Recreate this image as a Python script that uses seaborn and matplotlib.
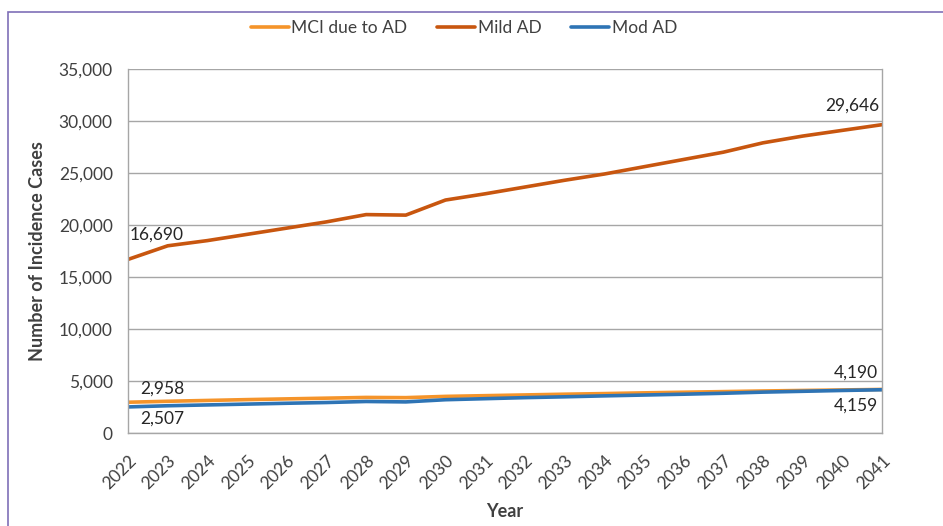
import matplotlib
matplotlib.use("Agg")
import matplotlib.pyplot as plt
from matplotlib.patches import Rectangle
from matplotlib.ticker import FuncFormatter
import seaborn as sns
import pandas as pd

years = list(range(2022, 2042))
mci_due_to_ad = [2958, 3050, 3130, 3210, 3280, 3350, 3420, 3400, 3520, 3590,
                 3660, 3730, 3790, 3860, 3920, 3980, 4040, 4090, 4140, 4190]
mild_ad = [16690, 18000, 18500, 19100, 19700, 20300, 21000, 20950, 22400, 23000,
           23650, 24300, 24900, 25600, 26300, 27000, 27900, 28550, 29100, 29646]
mod_ad = [2507, 2620, 2700, 2780, 2860, 2930, 3030, 2990, 3200, 3300,
          3400, 3480, 3570, 3650, 3730, 3820, 3930, 4010, 4090, 4159]
series_names = ["MCI due to AD", "Mild AD", "Mod AD"]
colors = ["#F5942A", "#C8560F", "#2E74B5"]

df = pd.DataFrame({
    "Year": years * 3,
    "Cases": mci_due_to_ad + mild_ad + mod_ad,
    "Series": [series_names[0]] * 20 + [series_names[1]] * 20 + [series_names[2]] * 20,
})

sns.set_theme(style="white")
plt.rcParams["font.family"] = ["Lato", "DejaVu Sans"]

fig = plt.figure(figsize=(9.43, 5.26), dpi=100)
ax = fig.add_axes([128 / 943, 1 - 433 / 526, (882 - 128) / 943, (433 - 69) / 526])

sns.lineplot(data=df, x="Year", y="Cases", hue="Series", hue_order=series_names,
             palette=colors, linewidth=2.6, ax=ax, legend=False, sort=False)

ax.set_xlim(years[0], years[-1])
ax.set_ylim(0, 35000)
ax.set_yticks(range(0, 35001, 5000))
ax.yaxis.set_major_formatter(FuncFormatter(lambda v, p: f"{int(v):,}"))
ax.set_xticks(years)
ax.set_xticklabels([str(y) for y in years], rotation=45, ha="right",
                   rotation_mode="anchor")
ax.grid(axis="y", color="#A6A6A6", linewidth=1.0)
ax.set_axisbelow(True)
for side in ["left", "right", "bottom"]:
    ax.spines[side].set_color("#A6A6A6")
    ax.spines[side].set_linewidth(1.0)
ax.spines["top"].set_visible(False)
ax.tick_params(axis="both", which="both", direction="out", length=5,
               color="#A6A6A6", labelcolor="#404040", labelsize=12.5)
ax.tick_params(axis="x", pad=9)
ax.tick_params(axis="y", pad=6)
ax.set_xlabel("Year", fontsize=13, fontweight="bold", color="#404040", labelpad=8)
ax.set_ylabel("Number of Incidence Cases", fontsize=13, fontweight="bold",
              color="#404040", labelpad=9)

# value labels at the first and last years
lab = dict(fontsize=12.5, color="#262626")
ax.annotate(f"{mild_ad[0]:,}", (years[0], mild_ad[0]), xytext=(1, 12),
            textcoords="offset points", ha="left", va="bottom", **lab)
ax.annotate(f"{mild_ad[-1]:,}", (years[-1], mild_ad[-1]), xytext=(-2, 8),
            textcoords="offset points", ha="right", va="bottom", **lab)
ax.annotate(f"{mci_due_to_ad[0]:,}", (years[0], mci_due_to_ad[0]), xytext=(9, 4),
            textcoords="offset points", ha="left", va="bottom", **lab)
ax.annotate(f"{mod_ad[0]:,}", (years[0], mod_ad[0]), xytext=(9, -3),
            textcoords="offset points", ha="left", va="top", **lab)
ax.annotate(f"{mci_due_to_ad[-1]:,}", (years[-1], mci_due_to_ad[-1]), xytext=(-3, 6),
            textcoords="offset points", ha="right", va="bottom", **lab)
ax.annotate(f"{mod_ad[-1]:,}", (years[-1], mod_ad[-1]), xytext=(-3, -6),
            textcoords="offset points", ha="right", va="top", **lab)

handles = [plt.Line2D([], [], color=c, linewidth=2.6) for c in colors]
fig.legend(handles, series_names, loc="center", bbox_to_anchor=(464 / 943, 1 - 28 / 526),
           ncol=3, frameon=False, fontsize=12.5, handlelength=2.2, handletextpad=0.15,
           columnspacing=1.7, labelcolor="#404040")

fig.patches.append(Rectangle((8 / 943, -0.1), 1.2, 1.1 - 12 / 526, transform=fig.transFigure,
                             fill=False, edgecolor="#7F6FB8", linewidth=1.2))

fig.savefig("out.png", dpi=100)
